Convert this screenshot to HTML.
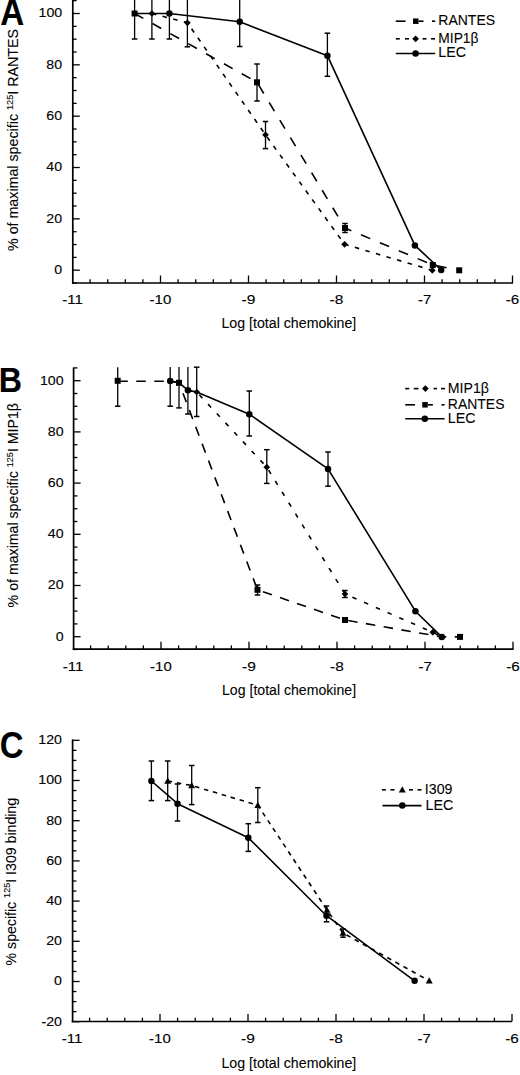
<!DOCTYPE html><html><head><meta charset="utf-8"><style>html,body{margin:0;padding:0;background:#fff;}svg{display:block;}text{font-family:"Liberation Sans", sans-serif;fill:#000;stroke:#000;stroke-width:0.08px;}text.t{stroke-width:0.12px;}</style></head><body>
<svg width="520" height="1075" viewBox="0 0 520 1075">
<line x1="72.80" y1="-1.00" x2="72.80" y2="283.85" stroke="#000" stroke-width="1.7" stroke-linecap="butt"/>
<line x1="71.95" y1="283.00" x2="513.00" y2="283.00" stroke="#000" stroke-width="1.7" stroke-linecap="butt"/>
<line x1="72.80" y1="283.03" x2="76.60" y2="283.03" stroke="#000" stroke-width="1.3" stroke-linecap="butt"/>
<line x1="72.80" y1="270.20" x2="79.80" y2="270.20" stroke="#000" stroke-width="1.3" stroke-linecap="butt"/>
<line x1="72.80" y1="257.37" x2="76.60" y2="257.37" stroke="#000" stroke-width="1.3" stroke-linecap="butt"/>
<line x1="72.80" y1="244.53" x2="76.60" y2="244.53" stroke="#000" stroke-width="1.3" stroke-linecap="butt"/>
<line x1="72.80" y1="231.69" x2="76.60" y2="231.69" stroke="#000" stroke-width="1.3" stroke-linecap="butt"/>
<line x1="72.80" y1="218.86" x2="79.80" y2="218.86" stroke="#000" stroke-width="1.3" stroke-linecap="butt"/>
<line x1="72.80" y1="206.02" x2="76.60" y2="206.02" stroke="#000" stroke-width="1.3" stroke-linecap="butt"/>
<line x1="72.80" y1="193.19" x2="76.60" y2="193.19" stroke="#000" stroke-width="1.3" stroke-linecap="butt"/>
<line x1="72.80" y1="180.35" x2="76.60" y2="180.35" stroke="#000" stroke-width="1.3" stroke-linecap="butt"/>
<line x1="72.80" y1="167.52" x2="79.80" y2="167.52" stroke="#000" stroke-width="1.3" stroke-linecap="butt"/>
<line x1="72.80" y1="154.68" x2="76.60" y2="154.68" stroke="#000" stroke-width="1.3" stroke-linecap="butt"/>
<line x1="72.80" y1="141.85" x2="76.60" y2="141.85" stroke="#000" stroke-width="1.3" stroke-linecap="butt"/>
<line x1="72.80" y1="129.01" x2="76.60" y2="129.01" stroke="#000" stroke-width="1.3" stroke-linecap="butt"/>
<line x1="72.80" y1="116.18" x2="79.80" y2="116.18" stroke="#000" stroke-width="1.3" stroke-linecap="butt"/>
<line x1="72.80" y1="103.34" x2="76.60" y2="103.34" stroke="#000" stroke-width="1.3" stroke-linecap="butt"/>
<line x1="72.80" y1="90.51" x2="76.60" y2="90.51" stroke="#000" stroke-width="1.3" stroke-linecap="butt"/>
<line x1="72.80" y1="77.67" x2="76.60" y2="77.67" stroke="#000" stroke-width="1.3" stroke-linecap="butt"/>
<line x1="72.80" y1="64.84" x2="79.80" y2="64.84" stroke="#000" stroke-width="1.3" stroke-linecap="butt"/>
<line x1="72.80" y1="52.00" x2="76.60" y2="52.00" stroke="#000" stroke-width="1.3" stroke-linecap="butt"/>
<line x1="72.80" y1="39.17" x2="76.60" y2="39.17" stroke="#000" stroke-width="1.3" stroke-linecap="butt"/>
<line x1="72.80" y1="26.33" x2="76.60" y2="26.33" stroke="#000" stroke-width="1.3" stroke-linecap="butt"/>
<line x1="72.80" y1="13.50" x2="79.80" y2="13.50" stroke="#000" stroke-width="1.3" stroke-linecap="butt"/>
<line x1="72.80" y1="0.66" x2="76.60" y2="0.66" stroke="#000" stroke-width="1.3" stroke-linecap="butt"/>
<line x1="90.10" y1="283.00" x2="90.10" y2="279.20" stroke="#000" stroke-width="1.3" stroke-linecap="butt"/>
<line x1="107.70" y1="283.00" x2="107.70" y2="279.20" stroke="#000" stroke-width="1.3" stroke-linecap="butt"/>
<line x1="125.30" y1="283.00" x2="125.30" y2="279.20" stroke="#000" stroke-width="1.3" stroke-linecap="butt"/>
<line x1="142.90" y1="283.00" x2="142.90" y2="279.20" stroke="#000" stroke-width="1.3" stroke-linecap="butt"/>
<line x1="160.50" y1="283.00" x2="160.50" y2="275.50" stroke="#000" stroke-width="1.3" stroke-linecap="butt"/>
<line x1="178.10" y1="283.00" x2="178.10" y2="279.20" stroke="#000" stroke-width="1.3" stroke-linecap="butt"/>
<line x1="195.70" y1="283.00" x2="195.70" y2="279.20" stroke="#000" stroke-width="1.3" stroke-linecap="butt"/>
<line x1="213.30" y1="283.00" x2="213.30" y2="279.20" stroke="#000" stroke-width="1.3" stroke-linecap="butt"/>
<line x1="230.90" y1="283.00" x2="230.90" y2="279.20" stroke="#000" stroke-width="1.3" stroke-linecap="butt"/>
<line x1="248.50" y1="283.00" x2="248.50" y2="275.50" stroke="#000" stroke-width="1.3" stroke-linecap="butt"/>
<line x1="266.10" y1="283.00" x2="266.10" y2="279.20" stroke="#000" stroke-width="1.3" stroke-linecap="butt"/>
<line x1="283.70" y1="283.00" x2="283.70" y2="279.20" stroke="#000" stroke-width="1.3" stroke-linecap="butt"/>
<line x1="301.30" y1="283.00" x2="301.30" y2="279.20" stroke="#000" stroke-width="1.3" stroke-linecap="butt"/>
<line x1="318.90" y1="283.00" x2="318.90" y2="279.20" stroke="#000" stroke-width="1.3" stroke-linecap="butt"/>
<line x1="336.50" y1="283.00" x2="336.50" y2="275.50" stroke="#000" stroke-width="1.3" stroke-linecap="butt"/>
<line x1="354.10" y1="283.00" x2="354.10" y2="279.20" stroke="#000" stroke-width="1.3" stroke-linecap="butt"/>
<line x1="371.70" y1="283.00" x2="371.70" y2="279.20" stroke="#000" stroke-width="1.3" stroke-linecap="butt"/>
<line x1="389.30" y1="283.00" x2="389.30" y2="279.20" stroke="#000" stroke-width="1.3" stroke-linecap="butt"/>
<line x1="406.90" y1="283.00" x2="406.90" y2="279.20" stroke="#000" stroke-width="1.3" stroke-linecap="butt"/>
<line x1="424.50" y1="283.00" x2="424.50" y2="275.50" stroke="#000" stroke-width="1.3" stroke-linecap="butt"/>
<line x1="442.10" y1="283.00" x2="442.10" y2="279.20" stroke="#000" stroke-width="1.3" stroke-linecap="butt"/>
<line x1="459.70" y1="283.00" x2="459.70" y2="279.20" stroke="#000" stroke-width="1.3" stroke-linecap="butt"/>
<line x1="477.30" y1="283.00" x2="477.30" y2="279.20" stroke="#000" stroke-width="1.3" stroke-linecap="butt"/>
<line x1="494.90" y1="283.00" x2="494.90" y2="279.20" stroke="#000" stroke-width="1.3" stroke-linecap="butt"/>
<line x1="512.50" y1="283.00" x2="512.50" y2="275.50" stroke="#000" stroke-width="1.3" stroke-linecap="butt"/>
<text class="t" x="38.50" y="17.40" font-size="13.5" textLength="23.65" lengthAdjust="spacingAndGlyphs">100</text>
<text class="t" x="46.39" y="68.74" font-size="13.5" textLength="15.77" lengthAdjust="spacingAndGlyphs">80</text>
<text class="t" x="46.39" y="120.08" font-size="13.5" textLength="15.77" lengthAdjust="spacingAndGlyphs">60</text>
<text class="t" x="46.39" y="171.42" font-size="13.5" textLength="15.77" lengthAdjust="spacingAndGlyphs">40</text>
<text class="t" x="46.39" y="222.76" font-size="13.5" textLength="15.77" lengthAdjust="spacingAndGlyphs">20</text>
<text class="t" x="54.27" y="274.10" font-size="13.5" textLength="7.88" lengthAdjust="spacingAndGlyphs">0</text>
<text class="t" x="62.16" y="304.00" font-size="13.5" textLength="20.74" lengthAdjust="spacingAndGlyphs">-11</text>
<text class="t" x="149.63" y="304.00" font-size="13.5" textLength="21.65" lengthAdjust="spacingAndGlyphs">-10</text>
<text class="t" x="241.61" y="304.00" font-size="13.5" textLength="13.83" lengthAdjust="spacingAndGlyphs">-9</text>
<text class="t" x="329.61" y="304.00" font-size="13.5" textLength="13.76" lengthAdjust="spacingAndGlyphs">-8</text>
<text class="t" x="417.94" y="304.00" font-size="13.5" textLength="13.21" lengthAdjust="spacingAndGlyphs">-7</text>
<text class="t" x="505.72" y="304.00" font-size="13.5" textLength="13.55" lengthAdjust="spacingAndGlyphs">-6</text>
<text x="221.44" y="327.50" font-size="14" textLength="134.88" lengthAdjust="spacingAndGlyphs">Log [total chemokine]</text>
<text x="0.17" y="24.70" font-size="36" textLength="24.00" lengthAdjust="spacingAndGlyphs" font-weight="bold">A</text>
<text transform="translate(18.4,251) rotate(-90)" font-size="14" textLength="222" lengthAdjust="spacingAndGlyphs">% of maximal specific <tspan font-size="9" dy="-5.5">125</tspan><tspan dy="5.5">I RANTES</tspan></text>
<line x1="345.00" y1="223.50" x2="345.00" y2="232.50" stroke="#000" stroke-width="1.3" stroke-linecap="butt"/>
<line x1="342.25" y1="223.50" x2="347.75" y2="223.50" stroke="#000" stroke-width="1.5" stroke-linecap="butt"/>
<line x1="342.25" y1="232.50" x2="347.75" y2="232.50" stroke="#000" stroke-width="1.5" stroke-linecap="butt"/>
<line x1="134.60" y1="-12.00" x2="134.60" y2="39.00" stroke="#000" stroke-width="1.3" stroke-linecap="butt"/>
<line x1="131.85" y1="-12.00" x2="137.35" y2="-12.00" stroke="#000" stroke-width="1.5" stroke-linecap="butt"/>
<line x1="131.85" y1="39.00" x2="137.35" y2="39.00" stroke="#000" stroke-width="1.5" stroke-linecap="butt"/>
<line x1="151.90" y1="-12.00" x2="151.90" y2="39.00" stroke="#000" stroke-width="1.3" stroke-linecap="butt"/>
<line x1="149.15" y1="-12.00" x2="154.65" y2="-12.00" stroke="#000" stroke-width="1.5" stroke-linecap="butt"/>
<line x1="149.15" y1="39.00" x2="154.65" y2="39.00" stroke="#000" stroke-width="1.5" stroke-linecap="butt"/>
<line x1="169.40" y1="-12.00" x2="169.40" y2="39.00" stroke="#000" stroke-width="1.3" stroke-linecap="butt"/>
<line x1="166.65" y1="-12.00" x2="172.15" y2="-12.00" stroke="#000" stroke-width="1.5" stroke-linecap="butt"/>
<line x1="166.65" y1="39.00" x2="172.15" y2="39.00" stroke="#000" stroke-width="1.5" stroke-linecap="butt"/>
<line x1="187.40" y1="-2.00" x2="187.40" y2="46.80" stroke="#000" stroke-width="1.3" stroke-linecap="butt"/>
<line x1="184.65" y1="-2.00" x2="190.15" y2="-2.00" stroke="#000" stroke-width="1.5" stroke-linecap="butt"/>
<line x1="184.65" y1="46.80" x2="190.15" y2="46.80" stroke="#000" stroke-width="1.5" stroke-linecap="butt"/>
<line x1="239.70" y1="-3.00" x2="239.70" y2="46.50" stroke="#000" stroke-width="1.3" stroke-linecap="butt"/>
<line x1="236.95" y1="-3.00" x2="242.45" y2="-3.00" stroke="#000" stroke-width="1.5" stroke-linecap="butt"/>
<line x1="236.95" y1="46.50" x2="242.45" y2="46.50" stroke="#000" stroke-width="1.5" stroke-linecap="butt"/>
<line x1="327.40" y1="33.20" x2="327.40" y2="76.30" stroke="#000" stroke-width="1.3" stroke-linecap="butt"/>
<line x1="324.65" y1="33.20" x2="330.15" y2="33.20" stroke="#000" stroke-width="1.5" stroke-linecap="butt"/>
<line x1="324.65" y1="76.30" x2="330.15" y2="76.30" stroke="#000" stroke-width="1.5" stroke-linecap="butt"/>
<line x1="257.00" y1="64.00" x2="257.00" y2="101.00" stroke="#000" stroke-width="1.3" stroke-linecap="butt"/>
<line x1="254.25" y1="64.00" x2="259.75" y2="64.00" stroke="#000" stroke-width="1.5" stroke-linecap="butt"/>
<line x1="254.25" y1="101.00" x2="259.75" y2="101.00" stroke="#000" stroke-width="1.5" stroke-linecap="butt"/>
<line x1="265.50" y1="121.50" x2="265.50" y2="148.60" stroke="#000" stroke-width="1.3" stroke-linecap="butt"/>
<line x1="262.75" y1="121.50" x2="268.25" y2="121.50" stroke="#000" stroke-width="1.5" stroke-linecap="butt"/>
<line x1="262.75" y1="148.60" x2="268.25" y2="148.60" stroke="#000" stroke-width="1.5" stroke-linecap="butt"/>
<polyline points="134.6,13.5 257.0,82.3 345.0,228.0 432.8,265.0 459.2,270.3" fill="none" stroke="#000" stroke-width="1.6" stroke-linejoin="round" stroke-dasharray="10,10.5" stroke-dashoffset="0"/>
<polyline points="151.9,13.5 187.4,22.8 265.5,134.8 344.6,244.3 432.3,270.3 441.2,270.3" fill="none" stroke="#000" stroke-width="1.6" stroke-linejoin="round" stroke-dasharray="4.5,6.5" stroke-dashoffset="0"/>
<polyline points="134.6,13.5 151.9,13.5 169.4,13.5 239.7,21.8 327.4,55.7 414.9,245.4 441.2,270.0" fill="none" stroke="#000" stroke-width="1.6" stroke-linejoin="round"/>
<rect x="131.60" y="10.50" width="6" height="6" fill="#000"/>
<rect x="254.00" y="79.30" width="6" height="6" fill="#000"/>
<rect x="342.00" y="225.00" width="6" height="6" fill="#000"/>
<rect x="429.80" y="262.00" width="6" height="6" fill="#000"/>
<rect x="456.20" y="267.30" width="6" height="6" fill="#000"/>
<polygon points="151.90,10.15 155.25,13.50 151.90,16.85 148.55,13.50" fill="#000"/>
<polygon points="187.40,19.45 190.75,22.80 187.40,26.15 184.05,22.80" fill="#000"/>
<polygon points="265.50,131.45 268.85,134.80 265.50,138.15 262.15,134.80" fill="#000"/>
<polygon points="344.60,240.95 347.95,244.30 344.60,247.65 341.25,244.30" fill="#000"/>
<polygon points="432.30,266.95 435.65,270.30 432.30,273.65 428.95,270.30" fill="#000"/>
<circle cx="169.40" cy="13.50" r="3.25" fill="#000"/>
<circle cx="239.70" cy="21.80" r="3.25" fill="#000"/>
<circle cx="327.40" cy="55.70" r="3.25" fill="#000"/>
<circle cx="414.90" cy="245.40" r="3.25" fill="#000"/>
<circle cx="441.20" cy="270.00" r="3.25" fill="#000"/>
<line x1="395.80" y1="21.20" x2="405.60" y2="21.20" stroke="#000" stroke-width="1.6" stroke-linecap="butt"/>
<rect x="413.05" y="18.45" width="5.5" height="5.5" fill="#000"/>
<line x1="418.80" y1="21.20" x2="423.50" y2="21.20" stroke="#000" stroke-width="1.6" stroke-linecap="butt"/>
<line x1="432.00" y1="21.20" x2="435.20" y2="21.20" stroke="#000" stroke-width="1.6" stroke-linecap="butt"/>
<text x="438.35" y="24.90" font-size="14" textLength="56.69" lengthAdjust="spacingAndGlyphs">RANTES</text>
<line x1="395.80" y1="38.80" x2="399.80" y2="38.80" stroke="#000" stroke-width="1.6" stroke-linecap="butt"/>
<line x1="405.00" y1="38.80" x2="409.00" y2="38.80" stroke="#000" stroke-width="1.6" stroke-linecap="butt"/>
<line x1="422.50" y1="38.80" x2="426.50" y2="38.80" stroke="#000" stroke-width="1.6" stroke-linecap="butt"/>
<line x1="431.00" y1="38.80" x2="435.00" y2="38.80" stroke="#000" stroke-width="1.6" stroke-linecap="butt"/>
<polygon points="415.60,35.45 418.95,38.80 415.60,42.15 412.25,38.80" fill="#000"/>
<text x="438.37" y="42.50" font-size="14" textLength="40.07" lengthAdjust="spacingAndGlyphs">MIP1β</text>
<line x1="395.80" y1="53.50" x2="435.20" y2="53.50" stroke="#000" stroke-width="1.6" stroke-linecap="butt"/>
<circle cx="415.60" cy="53.50" r="3.25" fill="#000"/>
<text x="438.33" y="57.30" font-size="14" textLength="27.82" lengthAdjust="spacingAndGlyphs">LEC</text>
<line x1="73.60" y1="367.50" x2="73.60" y2="650.05" stroke="#000" stroke-width="1.7" stroke-linecap="butt"/>
<line x1="72.75" y1="649.20" x2="513.50" y2="649.20" stroke="#000" stroke-width="1.7" stroke-linecap="butt"/>
<line x1="73.60" y1="649.50" x2="77.40" y2="649.50" stroke="#000" stroke-width="1.3" stroke-linecap="butt"/>
<line x1="73.60" y1="636.70" x2="80.60" y2="636.70" stroke="#000" stroke-width="1.3" stroke-linecap="butt"/>
<line x1="73.60" y1="623.90" x2="77.40" y2="623.90" stroke="#000" stroke-width="1.3" stroke-linecap="butt"/>
<line x1="73.60" y1="611.10" x2="77.40" y2="611.10" stroke="#000" stroke-width="1.3" stroke-linecap="butt"/>
<line x1="73.60" y1="598.30" x2="77.40" y2="598.30" stroke="#000" stroke-width="1.3" stroke-linecap="butt"/>
<line x1="73.60" y1="585.50" x2="80.60" y2="585.50" stroke="#000" stroke-width="1.3" stroke-linecap="butt"/>
<line x1="73.60" y1="572.70" x2="77.40" y2="572.70" stroke="#000" stroke-width="1.3" stroke-linecap="butt"/>
<line x1="73.60" y1="559.90" x2="77.40" y2="559.90" stroke="#000" stroke-width="1.3" stroke-linecap="butt"/>
<line x1="73.60" y1="547.10" x2="77.40" y2="547.10" stroke="#000" stroke-width="1.3" stroke-linecap="butt"/>
<line x1="73.60" y1="534.30" x2="80.60" y2="534.30" stroke="#000" stroke-width="1.3" stroke-linecap="butt"/>
<line x1="73.60" y1="521.50" x2="77.40" y2="521.50" stroke="#000" stroke-width="1.3" stroke-linecap="butt"/>
<line x1="73.60" y1="508.70" x2="77.40" y2="508.70" stroke="#000" stroke-width="1.3" stroke-linecap="butt"/>
<line x1="73.60" y1="495.90" x2="77.40" y2="495.90" stroke="#000" stroke-width="1.3" stroke-linecap="butt"/>
<line x1="73.60" y1="483.10" x2="80.60" y2="483.10" stroke="#000" stroke-width="1.3" stroke-linecap="butt"/>
<line x1="73.60" y1="470.30" x2="77.40" y2="470.30" stroke="#000" stroke-width="1.3" stroke-linecap="butt"/>
<line x1="73.60" y1="457.50" x2="77.40" y2="457.50" stroke="#000" stroke-width="1.3" stroke-linecap="butt"/>
<line x1="73.60" y1="444.70" x2="77.40" y2="444.70" stroke="#000" stroke-width="1.3" stroke-linecap="butt"/>
<line x1="73.60" y1="431.90" x2="80.60" y2="431.90" stroke="#000" stroke-width="1.3" stroke-linecap="butt"/>
<line x1="73.60" y1="419.10" x2="77.40" y2="419.10" stroke="#000" stroke-width="1.3" stroke-linecap="butt"/>
<line x1="73.60" y1="406.30" x2="77.40" y2="406.30" stroke="#000" stroke-width="1.3" stroke-linecap="butt"/>
<line x1="73.60" y1="393.50" x2="77.40" y2="393.50" stroke="#000" stroke-width="1.3" stroke-linecap="butt"/>
<line x1="73.60" y1="380.70" x2="80.60" y2="380.70" stroke="#000" stroke-width="1.3" stroke-linecap="butt"/>
<line x1="73.60" y1="367.90" x2="77.40" y2="367.90" stroke="#000" stroke-width="1.3" stroke-linecap="butt"/>
<line x1="90.60" y1="649.20" x2="90.60" y2="645.40" stroke="#000" stroke-width="1.3" stroke-linecap="butt"/>
<line x1="108.20" y1="649.20" x2="108.20" y2="645.40" stroke="#000" stroke-width="1.3" stroke-linecap="butt"/>
<line x1="125.80" y1="649.20" x2="125.80" y2="645.40" stroke="#000" stroke-width="1.3" stroke-linecap="butt"/>
<line x1="143.40" y1="649.20" x2="143.40" y2="645.40" stroke="#000" stroke-width="1.3" stroke-linecap="butt"/>
<line x1="161.00" y1="649.20" x2="161.00" y2="641.70" stroke="#000" stroke-width="1.3" stroke-linecap="butt"/>
<line x1="178.60" y1="649.20" x2="178.60" y2="645.40" stroke="#000" stroke-width="1.3" stroke-linecap="butt"/>
<line x1="196.20" y1="649.20" x2="196.20" y2="645.40" stroke="#000" stroke-width="1.3" stroke-linecap="butt"/>
<line x1="213.80" y1="649.20" x2="213.80" y2="645.40" stroke="#000" stroke-width="1.3" stroke-linecap="butt"/>
<line x1="231.40" y1="649.20" x2="231.40" y2="645.40" stroke="#000" stroke-width="1.3" stroke-linecap="butt"/>
<line x1="249.00" y1="649.20" x2="249.00" y2="641.70" stroke="#000" stroke-width="1.3" stroke-linecap="butt"/>
<line x1="266.60" y1="649.20" x2="266.60" y2="645.40" stroke="#000" stroke-width="1.3" stroke-linecap="butt"/>
<line x1="284.20" y1="649.20" x2="284.20" y2="645.40" stroke="#000" stroke-width="1.3" stroke-linecap="butt"/>
<line x1="301.80" y1="649.20" x2="301.80" y2="645.40" stroke="#000" stroke-width="1.3" stroke-linecap="butt"/>
<line x1="319.40" y1="649.20" x2="319.40" y2="645.40" stroke="#000" stroke-width="1.3" stroke-linecap="butt"/>
<line x1="337.00" y1="649.20" x2="337.00" y2="641.70" stroke="#000" stroke-width="1.3" stroke-linecap="butt"/>
<line x1="354.60" y1="649.20" x2="354.60" y2="645.40" stroke="#000" stroke-width="1.3" stroke-linecap="butt"/>
<line x1="372.20" y1="649.20" x2="372.20" y2="645.40" stroke="#000" stroke-width="1.3" stroke-linecap="butt"/>
<line x1="389.80" y1="649.20" x2="389.80" y2="645.40" stroke="#000" stroke-width="1.3" stroke-linecap="butt"/>
<line x1="407.40" y1="649.20" x2="407.40" y2="645.40" stroke="#000" stroke-width="1.3" stroke-linecap="butt"/>
<line x1="425.00" y1="649.20" x2="425.00" y2="641.70" stroke="#000" stroke-width="1.3" stroke-linecap="butt"/>
<line x1="442.60" y1="649.20" x2="442.60" y2="645.40" stroke="#000" stroke-width="1.3" stroke-linecap="butt"/>
<line x1="460.20" y1="649.20" x2="460.20" y2="645.40" stroke="#000" stroke-width="1.3" stroke-linecap="butt"/>
<line x1="477.80" y1="649.20" x2="477.80" y2="645.40" stroke="#000" stroke-width="1.3" stroke-linecap="butt"/>
<line x1="495.40" y1="649.20" x2="495.40" y2="645.40" stroke="#000" stroke-width="1.3" stroke-linecap="butt"/>
<line x1="513.00" y1="649.20" x2="513.00" y2="641.70" stroke="#000" stroke-width="1.3" stroke-linecap="butt"/>
<text class="t" x="39.90" y="384.60" font-size="13.5" textLength="23.65" lengthAdjust="spacingAndGlyphs">100</text>
<text class="t" x="47.79" y="435.80" font-size="13.5" textLength="15.77" lengthAdjust="spacingAndGlyphs">80</text>
<text class="t" x="47.79" y="487.00" font-size="13.5" textLength="15.77" lengthAdjust="spacingAndGlyphs">60</text>
<text class="t" x="47.79" y="538.20" font-size="13.5" textLength="15.77" lengthAdjust="spacingAndGlyphs">40</text>
<text class="t" x="47.79" y="589.40" font-size="13.5" textLength="15.77" lengthAdjust="spacingAndGlyphs">20</text>
<text class="t" x="55.67" y="640.60" font-size="13.5" textLength="7.88" lengthAdjust="spacingAndGlyphs">0</text>
<text class="t" x="62.66" y="670.90" font-size="13.5" textLength="20.74" lengthAdjust="spacingAndGlyphs">-11</text>
<text class="t" x="150.13" y="670.90" font-size="13.5" textLength="21.65" lengthAdjust="spacingAndGlyphs">-10</text>
<text class="t" x="242.11" y="670.90" font-size="13.5" textLength="13.83" lengthAdjust="spacingAndGlyphs">-9</text>
<text class="t" x="330.11" y="670.90" font-size="13.5" textLength="13.76" lengthAdjust="spacingAndGlyphs">-8</text>
<text class="t" x="418.44" y="670.90" font-size="13.5" textLength="13.21" lengthAdjust="spacingAndGlyphs">-7</text>
<text class="t" x="506.22" y="670.90" font-size="13.5" textLength="13.55" lengthAdjust="spacingAndGlyphs">-6</text>
<text x="222.04" y="694.50" font-size="14" textLength="134.06" lengthAdjust="spacingAndGlyphs">Log [total chemokine]</text>
<text x="-1.15" y="391.70" font-size="35" textLength="23.21" lengthAdjust="spacingAndGlyphs" font-weight="bold">B</text>
<text transform="translate(18.2,607.4) rotate(-90)" font-size="14" textLength="204.4" lengthAdjust="spacingAndGlyphs">% of maximal specific <tspan font-size="9" dy="-5.5">125</tspan><tspan dy="5.5">I MIP1β</tspan></text>
<line x1="117.70" y1="367.30" x2="117.70" y2="406.20" stroke="#000" stroke-width="1.3" stroke-linecap="butt"/>
<line x1="114.95" y1="406.20" x2="120.45" y2="406.20" stroke="#000" stroke-width="1.5" stroke-linecap="butt"/>
<line x1="170.20" y1="367.00" x2="170.20" y2="406.20" stroke="#000" stroke-width="1.3" stroke-linecap="butt"/>
<line x1="167.45" y1="406.20" x2="172.95" y2="406.20" stroke="#000" stroke-width="1.5" stroke-linecap="butt"/>
<line x1="179.00" y1="367.00" x2="179.00" y2="407.90" stroke="#000" stroke-width="1.3" stroke-linecap="butt"/>
<line x1="176.25" y1="407.90" x2="181.75" y2="407.90" stroke="#000" stroke-width="1.5" stroke-linecap="butt"/>
<line x1="187.90" y1="367.00" x2="187.90" y2="414.00" stroke="#000" stroke-width="1.3" stroke-linecap="butt"/>
<line x1="185.15" y1="414.00" x2="190.65" y2="414.00" stroke="#000" stroke-width="1.5" stroke-linecap="butt"/>
<line x1="196.70" y1="367.20" x2="196.70" y2="416.50" stroke="#000" stroke-width="1.3" stroke-linecap="butt"/>
<line x1="193.95" y1="367.20" x2="199.45" y2="367.20" stroke="#000" stroke-width="1.5" stroke-linecap="butt"/>
<line x1="193.95" y1="416.50" x2="199.45" y2="416.50" stroke="#000" stroke-width="1.5" stroke-linecap="butt"/>
<line x1="249.30" y1="391.00" x2="249.30" y2="436.00" stroke="#000" stroke-width="1.3" stroke-linecap="butt"/>
<line x1="246.55" y1="391.00" x2="252.05" y2="391.00" stroke="#000" stroke-width="1.5" stroke-linecap="butt"/>
<line x1="246.55" y1="436.00" x2="252.05" y2="436.00" stroke="#000" stroke-width="1.5" stroke-linecap="butt"/>
<line x1="266.80" y1="449.70" x2="266.80" y2="483.40" stroke="#000" stroke-width="1.3" stroke-linecap="butt"/>
<line x1="264.05" y1="449.70" x2="269.55" y2="449.70" stroke="#000" stroke-width="1.5" stroke-linecap="butt"/>
<line x1="264.05" y1="483.40" x2="269.55" y2="483.40" stroke="#000" stroke-width="1.5" stroke-linecap="butt"/>
<line x1="328.00" y1="452.00" x2="328.00" y2="486.20" stroke="#000" stroke-width="1.3" stroke-linecap="butt"/>
<line x1="325.25" y1="452.00" x2="330.75" y2="452.00" stroke="#000" stroke-width="1.5" stroke-linecap="butt"/>
<line x1="325.25" y1="486.20" x2="330.75" y2="486.20" stroke="#000" stroke-width="1.5" stroke-linecap="butt"/>
<line x1="257.50" y1="585.00" x2="257.50" y2="595.00" stroke="#000" stroke-width="1.3" stroke-linecap="butt"/>
<line x1="254.75" y1="585.00" x2="260.25" y2="585.00" stroke="#000" stroke-width="1.5" stroke-linecap="butt"/>
<line x1="254.75" y1="595.00" x2="260.25" y2="595.00" stroke="#000" stroke-width="1.5" stroke-linecap="butt"/>
<line x1="345.00" y1="590.50" x2="345.00" y2="597.50" stroke="#000" stroke-width="1.3" stroke-linecap="butt"/>
<line x1="342.25" y1="590.50" x2="347.75" y2="590.50" stroke="#000" stroke-width="1.5" stroke-linecap="butt"/>
<line x1="342.25" y1="597.50" x2="347.75" y2="597.50" stroke="#000" stroke-width="1.5" stroke-linecap="butt"/>
<polyline points="117.7,381.3 170.2,381.3 179.0,382.8 257.5,589.8 345.0,620.0 441.8,636.9 460.0,636.9" fill="none" stroke="#000" stroke-width="1.6" stroke-linejoin="round" stroke-dasharray="9.5,8.5" stroke-dashoffset="-0.6"/>
<polyline points="187.9,390.2 196.7,392.0 266.8,467.2 345.0,594.0 432.8,632.3 441.8,636.9" fill="none" stroke="#000" stroke-width="1.6" stroke-linejoin="round" stroke-dasharray="4.5,8.3" stroke-dashoffset="0"/>
<polyline points="170.2,381.0 179.0,382.8 187.9,390.2 196.7,392.0 249.3,414.2 328.0,468.9 415.4,611.2 441.8,636.9" fill="none" stroke="#000" stroke-width="1.6" stroke-linejoin="round"/>
<rect x="114.70" y="377.80" width="6" height="6" fill="#000"/>
<rect x="176.00" y="379.80" width="6" height="6" fill="#000"/>
<rect x="254.50" y="586.80" width="6" height="6" fill="#000"/>
<rect x="342.00" y="617.00" width="6" height="6" fill="#000"/>
<rect x="457.00" y="633.90" width="6" height="6" fill="#000"/>
<polygon points="196.70,388.65 200.05,392.00 196.70,395.35 193.35,392.00" fill="#000"/>
<polygon points="266.80,463.85 270.15,467.20 266.80,470.55 263.45,467.20" fill="#000"/>
<polygon points="345.00,590.65 348.35,594.00 345.00,597.35 341.65,594.00" fill="#000"/>
<polygon points="432.80,628.95 436.15,632.30 432.80,635.65 429.45,632.30" fill="#000"/>
<circle cx="170.20" cy="381.00" r="3.25" fill="#000"/>
<circle cx="187.90" cy="390.20" r="3.25" fill="#000"/>
<circle cx="249.30" cy="414.20" r="3.25" fill="#000"/>
<circle cx="328.00" cy="468.90" r="3.25" fill="#000"/>
<circle cx="415.40" cy="611.20" r="3.25" fill="#000"/>
<circle cx="441.80" cy="636.90" r="3.25" fill="#000"/>
<line x1="405.20" y1="388.60" x2="409.20" y2="388.60" stroke="#000" stroke-width="1.6" stroke-linecap="butt"/>
<line x1="413.80" y1="388.60" x2="418.50" y2="388.60" stroke="#000" stroke-width="1.6" stroke-linecap="butt"/>
<line x1="433.50" y1="388.60" x2="437.00" y2="388.60" stroke="#000" stroke-width="1.6" stroke-linecap="butt"/>
<line x1="441.00" y1="388.60" x2="445.00" y2="388.60" stroke="#000" stroke-width="1.6" stroke-linecap="butt"/>
<polygon points="425.40,385.25 428.75,388.60 425.40,391.95 422.05,388.60" fill="#000"/>
<text x="447.84" y="392.60" font-size="14" textLength="41.12" lengthAdjust="spacingAndGlyphs">MIP1β</text>
<line x1="405.20" y1="404.80" x2="415.00" y2="404.80" stroke="#000" stroke-width="1.6" stroke-linecap="butt"/>
<rect x="422.25" y="402.05" width="5.5" height="5.5" fill="#000"/>
<line x1="427.70" y1="404.80" x2="432.90" y2="404.80" stroke="#000" stroke-width="1.6" stroke-linecap="butt"/>
<line x1="441.50" y1="404.80" x2="444.60" y2="404.80" stroke="#000" stroke-width="1.6" stroke-linecap="butt"/>
<text x="447.86" y="408.80" font-size="14" textLength="56.58" lengthAdjust="spacingAndGlyphs">RANTES</text>
<line x1="405.20" y1="418.80" x2="444.60" y2="418.80" stroke="#000" stroke-width="1.6" stroke-linecap="butt"/>
<circle cx="424.80" cy="418.80" r="3.25" fill="#000"/>
<text x="447.83" y="422.90" font-size="14" textLength="27.82" lengthAdjust="spacingAndGlyphs">LEC</text>
<line x1="72.60" y1="739.50" x2="72.60" y2="1022.35" stroke="#000" stroke-width="1.7" stroke-linecap="butt"/>
<line x1="71.75" y1="1021.50" x2="512.00" y2="1021.50" stroke="#000" stroke-width="1.7" stroke-linecap="butt"/>
<line x1="72.60" y1="1021.70" x2="79.60" y2="1021.70" stroke="#000" stroke-width="1.3" stroke-linecap="butt"/>
<line x1="72.60" y1="1011.65" x2="76.40" y2="1011.65" stroke="#000" stroke-width="1.3" stroke-linecap="butt"/>
<line x1="72.60" y1="1001.60" x2="76.40" y2="1001.60" stroke="#000" stroke-width="1.3" stroke-linecap="butt"/>
<line x1="72.60" y1="991.55" x2="76.40" y2="991.55" stroke="#000" stroke-width="1.3" stroke-linecap="butt"/>
<line x1="72.60" y1="981.50" x2="79.60" y2="981.50" stroke="#000" stroke-width="1.3" stroke-linecap="butt"/>
<line x1="72.60" y1="971.45" x2="76.40" y2="971.45" stroke="#000" stroke-width="1.3" stroke-linecap="butt"/>
<line x1="72.60" y1="961.40" x2="76.40" y2="961.40" stroke="#000" stroke-width="1.3" stroke-linecap="butt"/>
<line x1="72.60" y1="951.35" x2="76.40" y2="951.35" stroke="#000" stroke-width="1.3" stroke-linecap="butt"/>
<line x1="72.60" y1="941.30" x2="79.60" y2="941.30" stroke="#000" stroke-width="1.3" stroke-linecap="butt"/>
<line x1="72.60" y1="931.25" x2="76.40" y2="931.25" stroke="#000" stroke-width="1.3" stroke-linecap="butt"/>
<line x1="72.60" y1="921.20" x2="76.40" y2="921.20" stroke="#000" stroke-width="1.3" stroke-linecap="butt"/>
<line x1="72.60" y1="911.15" x2="76.40" y2="911.15" stroke="#000" stroke-width="1.3" stroke-linecap="butt"/>
<line x1="72.60" y1="901.10" x2="79.60" y2="901.10" stroke="#000" stroke-width="1.3" stroke-linecap="butt"/>
<line x1="72.60" y1="891.05" x2="76.40" y2="891.05" stroke="#000" stroke-width="1.3" stroke-linecap="butt"/>
<line x1="72.60" y1="881.00" x2="76.40" y2="881.00" stroke="#000" stroke-width="1.3" stroke-linecap="butt"/>
<line x1="72.60" y1="870.95" x2="76.40" y2="870.95" stroke="#000" stroke-width="1.3" stroke-linecap="butt"/>
<line x1="72.60" y1="860.90" x2="79.60" y2="860.90" stroke="#000" stroke-width="1.3" stroke-linecap="butt"/>
<line x1="72.60" y1="850.85" x2="76.40" y2="850.85" stroke="#000" stroke-width="1.3" stroke-linecap="butt"/>
<line x1="72.60" y1="840.80" x2="76.40" y2="840.80" stroke="#000" stroke-width="1.3" stroke-linecap="butt"/>
<line x1="72.60" y1="830.75" x2="76.40" y2="830.75" stroke="#000" stroke-width="1.3" stroke-linecap="butt"/>
<line x1="72.60" y1="820.70" x2="79.60" y2="820.70" stroke="#000" stroke-width="1.3" stroke-linecap="butt"/>
<line x1="72.60" y1="810.65" x2="76.40" y2="810.65" stroke="#000" stroke-width="1.3" stroke-linecap="butt"/>
<line x1="72.60" y1="800.60" x2="76.40" y2="800.60" stroke="#000" stroke-width="1.3" stroke-linecap="butt"/>
<line x1="72.60" y1="790.55" x2="76.40" y2="790.55" stroke="#000" stroke-width="1.3" stroke-linecap="butt"/>
<line x1="72.60" y1="780.50" x2="79.60" y2="780.50" stroke="#000" stroke-width="1.3" stroke-linecap="butt"/>
<line x1="72.60" y1="770.45" x2="76.40" y2="770.45" stroke="#000" stroke-width="1.3" stroke-linecap="butt"/>
<line x1="72.60" y1="760.40" x2="76.40" y2="760.40" stroke="#000" stroke-width="1.3" stroke-linecap="butt"/>
<line x1="72.60" y1="750.35" x2="76.40" y2="750.35" stroke="#000" stroke-width="1.3" stroke-linecap="butt"/>
<line x1="72.60" y1="740.30" x2="79.60" y2="740.30" stroke="#000" stroke-width="1.3" stroke-linecap="butt"/>
<line x1="89.60" y1="1021.50" x2="89.60" y2="1017.70" stroke="#000" stroke-width="1.3" stroke-linecap="butt"/>
<line x1="107.20" y1="1021.50" x2="107.20" y2="1017.70" stroke="#000" stroke-width="1.3" stroke-linecap="butt"/>
<line x1="124.80" y1="1021.50" x2="124.80" y2="1017.70" stroke="#000" stroke-width="1.3" stroke-linecap="butt"/>
<line x1="142.40" y1="1021.50" x2="142.40" y2="1017.70" stroke="#000" stroke-width="1.3" stroke-linecap="butt"/>
<line x1="160.00" y1="1021.50" x2="160.00" y2="1014.00" stroke="#000" stroke-width="1.3" stroke-linecap="butt"/>
<line x1="177.60" y1="1021.50" x2="177.60" y2="1017.70" stroke="#000" stroke-width="1.3" stroke-linecap="butt"/>
<line x1="195.20" y1="1021.50" x2="195.20" y2="1017.70" stroke="#000" stroke-width="1.3" stroke-linecap="butt"/>
<line x1="212.80" y1="1021.50" x2="212.80" y2="1017.70" stroke="#000" stroke-width="1.3" stroke-linecap="butt"/>
<line x1="230.40" y1="1021.50" x2="230.40" y2="1017.70" stroke="#000" stroke-width="1.3" stroke-linecap="butt"/>
<line x1="248.00" y1="1021.50" x2="248.00" y2="1014.00" stroke="#000" stroke-width="1.3" stroke-linecap="butt"/>
<line x1="265.60" y1="1021.50" x2="265.60" y2="1017.70" stroke="#000" stroke-width="1.3" stroke-linecap="butt"/>
<line x1="283.20" y1="1021.50" x2="283.20" y2="1017.70" stroke="#000" stroke-width="1.3" stroke-linecap="butt"/>
<line x1="300.80" y1="1021.50" x2="300.80" y2="1017.70" stroke="#000" stroke-width="1.3" stroke-linecap="butt"/>
<line x1="318.40" y1="1021.50" x2="318.40" y2="1017.70" stroke="#000" stroke-width="1.3" stroke-linecap="butt"/>
<line x1="336.00" y1="1021.50" x2="336.00" y2="1014.00" stroke="#000" stroke-width="1.3" stroke-linecap="butt"/>
<line x1="353.60" y1="1021.50" x2="353.60" y2="1017.70" stroke="#000" stroke-width="1.3" stroke-linecap="butt"/>
<line x1="371.20" y1="1021.50" x2="371.20" y2="1017.70" stroke="#000" stroke-width="1.3" stroke-linecap="butt"/>
<line x1="388.80" y1="1021.50" x2="388.80" y2="1017.70" stroke="#000" stroke-width="1.3" stroke-linecap="butt"/>
<line x1="406.40" y1="1021.50" x2="406.40" y2="1017.70" stroke="#000" stroke-width="1.3" stroke-linecap="butt"/>
<line x1="424.00" y1="1021.50" x2="424.00" y2="1014.00" stroke="#000" stroke-width="1.3" stroke-linecap="butt"/>
<line x1="441.60" y1="1021.50" x2="441.60" y2="1017.70" stroke="#000" stroke-width="1.3" stroke-linecap="butt"/>
<line x1="459.20" y1="1021.50" x2="459.20" y2="1017.70" stroke="#000" stroke-width="1.3" stroke-linecap="butt"/>
<line x1="476.80" y1="1021.50" x2="476.80" y2="1017.70" stroke="#000" stroke-width="1.3" stroke-linecap="butt"/>
<line x1="494.40" y1="1021.50" x2="494.40" y2="1017.70" stroke="#000" stroke-width="1.3" stroke-linecap="butt"/>
<line x1="512.00" y1="1021.50" x2="512.00" y2="1014.00" stroke="#000" stroke-width="1.3" stroke-linecap="butt"/>
<text class="t" x="38.30" y="744.20" font-size="13.5" textLength="23.65" lengthAdjust="spacingAndGlyphs">120</text>
<text class="t" x="38.30" y="784.40" font-size="13.5" textLength="23.65" lengthAdjust="spacingAndGlyphs">100</text>
<text class="t" x="46.19" y="824.60" font-size="13.5" textLength="15.77" lengthAdjust="spacingAndGlyphs">80</text>
<text class="t" x="46.19" y="864.80" font-size="13.5" textLength="15.77" lengthAdjust="spacingAndGlyphs">60</text>
<text class="t" x="46.19" y="905.00" font-size="13.5" textLength="15.77" lengthAdjust="spacingAndGlyphs">40</text>
<text class="t" x="46.19" y="945.20" font-size="13.5" textLength="15.77" lengthAdjust="spacingAndGlyphs">20</text>
<text class="t" x="54.07" y="985.40" font-size="13.5" textLength="7.88" lengthAdjust="spacingAndGlyphs">0</text>
<text class="t" x="41.47" y="1025.60" font-size="13.5" textLength="20.49" lengthAdjust="spacingAndGlyphs">-20</text>
<text class="t" x="61.66" y="1043.30" font-size="13.5" textLength="20.74" lengthAdjust="spacingAndGlyphs">-11</text>
<text class="t" x="149.13" y="1043.30" font-size="13.5" textLength="21.65" lengthAdjust="spacingAndGlyphs">-10</text>
<text class="t" x="241.11" y="1043.30" font-size="13.5" textLength="13.83" lengthAdjust="spacingAndGlyphs">-9</text>
<text class="t" x="329.11" y="1043.30" font-size="13.5" textLength="13.76" lengthAdjust="spacingAndGlyphs">-8</text>
<text class="t" x="417.44" y="1043.30" font-size="13.5" textLength="13.21" lengthAdjust="spacingAndGlyphs">-7</text>
<text class="t" x="505.22" y="1043.30" font-size="13.5" textLength="13.55" lengthAdjust="spacingAndGlyphs">-6</text>
<text x="221.44" y="1067.50" font-size="14" textLength="134.88" lengthAdjust="spacingAndGlyphs">Log [total chemokine]</text>
<text x="-0.25" y="757.90" font-size="36" textLength="23.75" lengthAdjust="spacingAndGlyphs" font-weight="bold">C</text>
<text transform="translate(15.5,965.4) rotate(-90)" font-size="14" textLength="167.5" lengthAdjust="spacingAndGlyphs">% specific <tspan font-size="9" dy="-5.5">125</tspan><tspan dy="5.5">I I309 binding</tspan></text>
<line x1="151.40" y1="761.00" x2="151.40" y2="800.60" stroke="#000" stroke-width="1.3" stroke-linecap="butt"/>
<line x1="148.65" y1="761.00" x2="154.15" y2="761.00" stroke="#000" stroke-width="1.5" stroke-linecap="butt"/>
<line x1="148.65" y1="800.60" x2="154.15" y2="800.60" stroke="#000" stroke-width="1.5" stroke-linecap="butt"/>
<line x1="167.70" y1="761.00" x2="167.70" y2="800.60" stroke="#000" stroke-width="1.3" stroke-linecap="butt"/>
<line x1="164.95" y1="761.00" x2="170.45" y2="761.00" stroke="#000" stroke-width="1.5" stroke-linecap="butt"/>
<line x1="164.95" y1="800.60" x2="170.45" y2="800.60" stroke="#000" stroke-width="1.5" stroke-linecap="butt"/>
<line x1="177.50" y1="784.00" x2="177.50" y2="821.00" stroke="#000" stroke-width="1.3" stroke-linecap="butt"/>
<line x1="174.75" y1="784.00" x2="180.25" y2="784.00" stroke="#000" stroke-width="1.5" stroke-linecap="butt"/>
<line x1="174.75" y1="821.00" x2="180.25" y2="821.00" stroke="#000" stroke-width="1.5" stroke-linecap="butt"/>
<line x1="191.70" y1="765.50" x2="191.70" y2="804.60" stroke="#000" stroke-width="1.3" stroke-linecap="butt"/>
<line x1="188.95" y1="765.50" x2="194.45" y2="765.50" stroke="#000" stroke-width="1.5" stroke-linecap="butt"/>
<line x1="188.95" y1="804.60" x2="194.45" y2="804.60" stroke="#000" stroke-width="1.5" stroke-linecap="butt"/>
<line x1="257.80" y1="787.70" x2="257.80" y2="822.50" stroke="#000" stroke-width="1.3" stroke-linecap="butt"/>
<line x1="255.05" y1="787.70" x2="260.55" y2="787.70" stroke="#000" stroke-width="1.5" stroke-linecap="butt"/>
<line x1="255.05" y1="822.50" x2="260.55" y2="822.50" stroke="#000" stroke-width="1.5" stroke-linecap="butt"/>
<line x1="248.30" y1="823.70" x2="248.30" y2="851.40" stroke="#000" stroke-width="1.3" stroke-linecap="butt"/>
<line x1="245.55" y1="823.70" x2="251.05" y2="823.70" stroke="#000" stroke-width="1.5" stroke-linecap="butt"/>
<line x1="245.55" y1="851.40" x2="251.05" y2="851.40" stroke="#000" stroke-width="1.5" stroke-linecap="butt"/>
<line x1="326.50" y1="906.00" x2="326.50" y2="921.80" stroke="#000" stroke-width="1.3" stroke-linecap="butt"/>
<line x1="323.75" y1="906.00" x2="329.25" y2="906.00" stroke="#000" stroke-width="1.5" stroke-linecap="butt"/>
<line x1="323.75" y1="921.80" x2="329.25" y2="921.80" stroke="#000" stroke-width="1.5" stroke-linecap="butt"/>
<line x1="343.00" y1="929.00" x2="343.00" y2="937.20" stroke="#000" stroke-width="1.3" stroke-linecap="butt"/>
<line x1="340.25" y1="929.00" x2="345.75" y2="929.00" stroke="#000" stroke-width="1.5" stroke-linecap="butt"/>
<line x1="340.25" y1="937.20" x2="345.75" y2="937.20" stroke="#000" stroke-width="1.5" stroke-linecap="butt"/>
<polyline points="167.7,781.0 191.7,785.5 257.8,805.2 327.0,910.0 343.0,933.0 429.2,980.8" fill="none" stroke="#000" stroke-width="1.6" stroke-linejoin="round" stroke-dasharray="4.5,4.8" stroke-dashoffset="0"/>
<polyline points="151.4,781.0 177.5,803.7 248.3,837.8 326.5,915.7 414.6,980.8" fill="none" stroke="#000" stroke-width="1.6" stroke-linejoin="round"/>
<polygon points="167.70,777.50 171.20,783.80 164.20,783.80" fill="#000"/>
<polygon points="191.70,782.00 195.20,788.30 188.20,788.30" fill="#000"/>
<polygon points="257.80,801.70 261.30,808.00 254.30,808.00" fill="#000"/>
<polygon points="327.00,906.50 330.50,912.80 323.50,912.80" fill="#000"/>
<polygon points="343.00,929.50 346.50,935.80 339.50,935.80" fill="#000"/>
<polygon points="429.20,977.30 432.70,983.60 425.70,983.60" fill="#000"/>
<circle cx="151.40" cy="781.00" r="3.25" fill="#000"/>
<circle cx="177.50" cy="803.70" r="3.25" fill="#000"/>
<circle cx="248.30" cy="837.80" r="3.25" fill="#000"/>
<circle cx="326.50" cy="915.70" r="3.25" fill="#000"/>
<circle cx="414.60" cy="980.80" r="3.25" fill="#000"/>
<line x1="381.90" y1="789.80" x2="385.90" y2="789.80" stroke="#000" stroke-width="1.6" stroke-linecap="butt"/>
<line x1="390.50" y1="789.80" x2="394.50" y2="789.80" stroke="#000" stroke-width="1.6" stroke-linecap="butt"/>
<line x1="409.00" y1="789.80" x2="413.00" y2="789.80" stroke="#000" stroke-width="1.6" stroke-linecap="butt"/>
<line x1="417.50" y1="789.80" x2="421.50" y2="789.80" stroke="#000" stroke-width="1.6" stroke-linecap="butt"/>
<polygon points="402.30,786.30 405.80,792.60 398.80,792.60" fill="#000"/>
<text x="424.89" y="793.70" font-size="14" textLength="27.58" lengthAdjust="spacingAndGlyphs">I309</text>
<line x1="382.50" y1="805.60" x2="421.50" y2="805.60" stroke="#000" stroke-width="1.6" stroke-linecap="butt"/>
<circle cx="402.30" cy="805.60" r="3.25" fill="#000"/>
<text x="425.43" y="809.60" font-size="14" textLength="27.82" lengthAdjust="spacingAndGlyphs">LEC</text>
</svg></body></html>
